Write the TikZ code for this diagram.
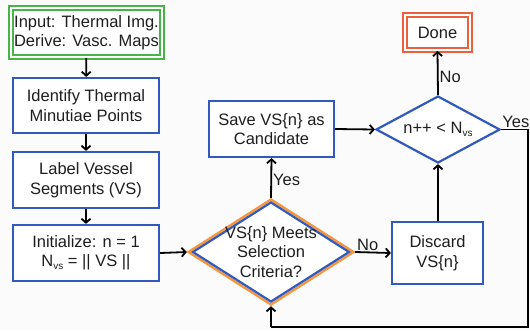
\documentclass[tikz,border=0pt]{standalone}
\usepackage{fontspec}
\setmainfont{Liberation Sans}
\usetikzlibrary{arrows.meta,shapes.geometric}
\definecolor{bxblue}{RGB}{50,90,190}
\definecolor{bxgreen}{RGB}{70,180,70}
\definecolor{bxorange}{RGB}{245,150,60}
\definecolor{bxred}{RGB}{235,95,60}
\definecolor{txt}{RGB}{30,30,30}
\definecolor{bg}{RGB}{251,251,252}
\newcommand{\sbvs}{{\fontsize{10}{10}\selectfont\raisebox{-3pt}{vs}}}
\begin{document}
\begin{tikzpicture}[x=1pt,y=-1pt,
  every node/.style={font=\fontsize{16.5}{19.5}\selectfont, text=txt},
  procbox/.style={draw=bxblue, line width=2.2pt, fill=white, align=center, inner sep=0pt},
  dblbox/.style={double=white, double distance=2pt, line width=1.8pt, fill=white, align=center, inner sep=0pt},
  dshape/.style={diamond, inner sep=0pt, fill=white},
  conn/.style={line width=1.8pt, black, -{Straight Barb[length=4pt,width=9pt,line width=1.8pt]}},
  plain/.style={line width=1.8pt, black},
  lbl/.style={font=\fontsize{16.5}{19}\selectfont, inner sep=1pt}
]
\fill[bg] (0,0) rectangle (530,330);
\useasboundingbox (0,0) rectangle (530,330);

\node[dblbox, draw=bxgreen, minimum width=151pt, minimum height=49pt] (inp) at (86.5,32.5) {Input: Thermal Img.\\Derive: Vasc. Maps};
\node[procbox, minimum width=146pt, minimum height=55pt] (idf) at (86,105.5) {Identify Thermal\\Minutiae Points};
\node[procbox, minimum width=146pt, minimum height=56pt] (lab) at (86,180) {Label Vessel\\Segments (VS)};
\node[procbox, minimum width=146pt, minimum height=56pt] (ini) at (86,253) {Initialize: n = 1\\N\sbvs{} = || VS ||};

\node[dshape, draw=bxorange, line width=2.4pt, minimum width=166pt, minimum height=106pt] (d1) at (271,252) {};
\node[dshape, draw=bxblue, line width=2.2pt, minimum width=157pt, minimum height=100pt, fill=none] (d1in) at (271,252) {};
\node[align=center, inner sep=0pt] (d1t) at (271,252) {VS\{n\} Meets\\Selection\\Criteria?};

\node[procbox, minimum width=125pt, minimum height=56pt] (sav) at (271.5,129) {Save VS\{n\} as\\Candidate};
\node[dshape, draw=bxblue, line width=2.2pt, minimum width=124pt, minimum height=67pt] (d2) at (438,129.5) {};
\node[inner sep=0pt] (d2t) at (438,129.5) {n++ < N\sbvs};

\node[procbox, minimum width=91pt, minimum height=62pt] (dis) at (437.5,253) {Discard\\VS\{n\}};
\node[dblbox, draw=bxred, minimum width=65pt, minimum height=35pt] (done) at (437.5,32.5) {Done};

\coordinate (c1) at (528,129.5);
\coordinate (c2) at (528,327);
\coordinate (c3) at (271,327);

\draw[conn] (inp) -- (idf);
\draw[conn] (idf) -- (lab);
\draw[conn] (lab) -- (ini);
\draw[conn] (ini.east) -- (d1.west);
\draw[conn] (d1.north) -- node[lbl, right, pos=0.45] {Yes} (sav.south);
\draw[conn] (d1.east) -- node[lbl, above, pos=0.35] {No} (dis.west);
\draw[conn] (sav.east) -- (d2.west);
\draw[conn] (d2.north) -- node[lbl, right, pos=0.4] {No} (done.south);
\draw[conn] (dis.north -| d2.south) -- (d2.south);
\draw[plain] (d2.east) -- node[lbl, above, pos=0.55] {Yes} (c1) -- (c2) -- (c3);
\draw[conn] (c3) -- (d1.south);
\end{tikzpicture}
\end{document}
